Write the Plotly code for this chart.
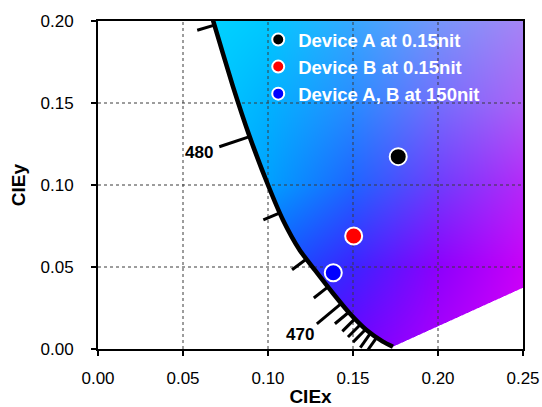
import numpy as np
import plotly.graph_objects as go

# ---------------- data ----------------
# spectral locus (CIE x, y) as drawn in the reference
locus_x = [0.0605, 0.0676, 0.0794, 0.0892, 0.1000, 0.1088, 0.1186, 0.1275, 0.1382, 0.1480, 0.1579, 0.1676, 0.1735]
locus_y = [0.2250, 0.2006, 0.1600, 0.1295, 0.1000, 0.0787, 0.0604, 0.0482, 0.0340, 0.0218, 0.0116, 0.0045, 0.0014]
# line of purples end point (red end of the locus)
purple_end_x = 0.7347
purple_end_y = 0.2653

# wavelength tick marks on the locus (x position on the locus) and their labels
tick_x = [0.0685, 0.0892, 0.1070, 0.1226, 0.1353, 0.1432, 0.1475, 0.1512, 0.1545, 0.1575, 0.1604, 0.1640]
tick_labels = ["", "480", "", "", "", "470", "", "", "", "", "", ""]

# measured points
series_names = ["Device A at 0.15nit", "Device B at 0.15nit", "Device A, B at 150nit"]
series_x = [0.1766, 0.1504, 0.1384]
series_y = [0.1173, 0.0689, 0.0465]
series_colors = ["#000000", "#ff0000", "#0000ff"]

x_ticks = [0.00, 0.05, 0.10, 0.15, 0.20, 0.25]
y_ticks = [0.00, 0.05, 0.10, 0.15, 0.20]
x_tick_text = ["0.00", "0.05", "0.10", "0.15", "0.20", "0.25"]
y_tick_text = ["0.00", "0.05", "0.10", "0.15", "0.20"]

# background colour anchors on a coarse x/y grid
fill_grid_x = [0.05, 0.10, 0.15, 0.20, 0.25]
fill_grid_y = [0.00, 0.05, 0.10, 0.15, 0.20]
fill_red = [[0, 20, 110, 170, 215],
            [0, 10, 60, 140, 200],
            [0, 0, 30, 110, 180],
            [0, 0, 40, 115, 172],
            [0, 0, 55, 118, 165]]
fill_green = [[0, 0, 0, 0, 0],
              [120, 90, 35, 0, 0],
              [200, 160, 100, 60, 40],
              [210, 178, 140, 110, 98],
              [215, 200, 168, 150, 132]]
fill_blue = [[255, 255, 255, 252, 248],
             [255, 255, 255, 252, 248],
             [255, 255, 255, 252, 248],
             [255, 255, 255, 252, 246],
             [255, 255, 255, 250, 245]]

# ---------------- layout constants ----------------
FIG_W, FIG_H = 542, 407
M_L, M_R, M_T, M_B = 98, 19, 21, 58
X_RANGE = [0.0, 0.25]
Y_RANGE = [0.0, 0.20]
plot_w = FIG_W - M_L - M_R
plot_h = FIG_H - M_T - M_B
sx = plot_w / (X_RANGE[1] - X_RANGE[0])   # px per unit
sy = plot_h / (Y_RANGE[1] - Y_RANGE[0])

FONT = "Liberation Sans, Arial, Helvetica, sans-serif"

# ---------------- chromaticity background ----------------
SS = 2
W, H = plot_w, plot_h
dx = (X_RANGE[1] - X_RANGE[0]) / W
dy = (Y_RANGE[1] - Y_RANGE[0]) / H
xs = X_RANGE[0] + (np.arange(W * SS) + 0.5) * dx / SS
ys = Y_RANGE[0] + (np.arange(H * SS) + 0.5) * dy / SS
GX, GY = np.meshgrid(xs, ys)

slope = (purple_end_y - locus_y[-1]) / (purple_end_x - locus_x[-1])
far_x = 0.5
poly_x = list(locus_x) + [far_x, far_x, locus_x[0]]
poly_y = list(locus_y) + [locus_y[-1] + slope * (far_x - locus_x[-1]), 0.5, 0.5]
px_ = np.array(poly_x)
py_ = np.array(poly_y)
inside = np.zeros(GX.shape, dtype=bool)
n = len(px_)
for i in range(n):
    x1, y1 = px_[i], py_[i]
    x2, y2 = px_[(i + 1) % n], py_[(i + 1) % n]
    cond = (y1 > GY) != (y2 > GY)
    with np.errstate(divide="ignore", invalid="ignore"):
        xint = x1 + (GY - y1) * (x2 - x1) / (y2 - y1)
    inside ^= cond & (GX < xint)


def bilinear(table, gxv, gyv, qx, qy):
    t = np.array(table, dtype=float)
    gxa = np.array(gxv)
    gya = np.array(gyv)
    fx = np.interp(qx, gxa, np.arange(len(gxa)))
    fy = np.interp(qy, gya, np.arange(len(gya)))
    i0 = np.clip(np.floor(fx).astype(int), 0, len(gxa) - 2)
    j0 = np.clip(np.floor(fy).astype(int), 0, len(gya) - 2)
    tx_ = fx - i0
    ty_ = fy - j0
    v00 = t[j0, i0]
    v01 = t[j0, i0 + 1]
    v10 = t[j0 + 1, i0]
    v11 = t[j0 + 1, i0 + 1]
    return (v00 * (1 - tx_) * (1 - ty_) + v01 * tx_ * (1 - ty_) +
            v10 * (1 - tx_) * ty_ + v11 * tx_ * ty_)


rgb = np.stack([bilinear(fill_red, fill_grid_x, fill_grid_y, GX, GY),
                bilinear(fill_green, fill_grid_x, fill_grid_y, GX, GY),
                bilinear(fill_blue, fill_grid_x, fill_grid_y, GX, GY)], axis=-1)
rgb[~inside] = 255.0
img = rgb.reshape(H, SS, W, SS, 3).mean(axis=(1, 3))
img = np.clip(np.round(img), 0, 255).astype(int)

fig = go.Figure()
fig.add_trace(go.Image(z=img.tolist(), x0=X_RANGE[0] + dx / 2, dx=dx,
                       y0=Y_RANGE[0] + dy / 2, dy=dy, hoverinfo="skip"))

# dashed grid drawn above the colour fill
gx, gy = [], []
for v in x_ticks[1:-1]:
    gx += [v, v, None]
    gy += [Y_RANGE[0], Y_RANGE[1], None]
for v in y_ticks[1:-1]:
    gx += [X_RANGE[0], X_RANGE[1], None]
    gy += [v, v, None]
fig.add_trace(go.Scatter(x=gx, y=gy, mode="lines", showlegend=False, hoverinfo="skip",
                         line=dict(color="#3a3a3a", width=1, dash="3px,3px")))

# wavelength ticks
lx = np.array(locus_x)
ly = np.array(locus_y)
LONG, SHORT, LABEL_GAP = 32, 18, 23
tx, ty, ann = [], [], []
for xv, lab in zip(tick_x, tick_labels):
    yv = float(np.interp(xv, lx, ly))
    k = int(np.clip(np.searchsorted(lx, xv), 1, len(lx) - 1))
    a = (lx[k] - lx[k - 1]) * sx
    b = (ly[k] - ly[k - 1]) * sy
    nrm = np.hypot(a, b)
    a, b = a / nrm, b / nrm
    L = LONG if lab else SHORT
    xe = xv + L * b / sx
    ye = yv - L * a / sy
    tx += [xv, xe, None]
    ty += [yv, ye, None]
    if lab:
        # label sits a little beyond the tick end, along the tick direction
        ann.append(dict(x=xe, y=ye, text="<b>%s</b>" % lab, showarrow=False,
                        xanchor="center", yanchor="middle",
                        xshift=LABEL_GAP * b * 0.95, yshift=-LABEL_GAP * a * 0.75,
                        font=dict(family=FONT, size=17, color="black")))
fig.add_trace(go.Scatter(x=tx, y=ty, mode="lines", showlegend=False, hoverinfo="skip",
                         line=dict(color="black", width=3)))

# locus line
fig.add_trace(go.Scatter(x=locus_x, y=locus_y, mode="lines", showlegend=False, hoverinfo="skip",
                         line=dict(color="black", width=4.5, shape="spline", smoothing=0.6)))

# points
for name, xv, yv, c in zip(series_names, series_x, series_y, series_colors):
    fig.add_trace(go.Scatter(x=[xv], y=[yv], mode="markers", name=name,
                             marker=dict(size=17, color=c, line=dict(color="white", width=2))))

axis_common = dict(showgrid=False, zeroline=False, showline=True, linecolor="black", linewidth=2,
                   mirror=True, ticks="outside", ticklen=5, tickwidth=2, tickcolor="black",
                   automargin=False,
                   tickfont=dict(family=FONT, size=17, color="black"))

fig.update_layout(
    width=FIG_W, height=FIG_H,
    margin=dict(l=M_L, r=M_R, t=M_T, b=M_B, pad=0, autoexpand=False),
    paper_bgcolor="white", plot_bgcolor="white",
    xaxis=dict(range=X_RANGE, tickvals=x_ticks, ticktext=x_tick_text, ticklabelstandoff=8,
               title=dict(text="<b>CIEx</b>", font=dict(family=FONT, size=19, color="black"), standoff=6),
               **axis_common),
    yaxis=dict(range=Y_RANGE, tickvals=y_ticks, ticktext=y_tick_text, scaleanchor=False,
               autorange=False, ticklabelstandoff=14,
               title=dict(text="<b>CIEy</b>", font=dict(family=FONT, size=19, color="black"), standoff=10),
               **axis_common),
    legend=dict(x=0.377, y=1.0, xanchor="left", yanchor="top", bgcolor="rgba(0,0,0,0)",
                font=dict(family=FONT, size=18.5, color="white", weight="bold"),
                itemsizing="constant", tracegroupgap=0),
    annotations=ann,
    showlegend=True,
)

fig.write_html("out.html", config={"displayModeBar": False},
               post_script="document.body.style.margin='0';document.body.style.overflow='hidden';")
